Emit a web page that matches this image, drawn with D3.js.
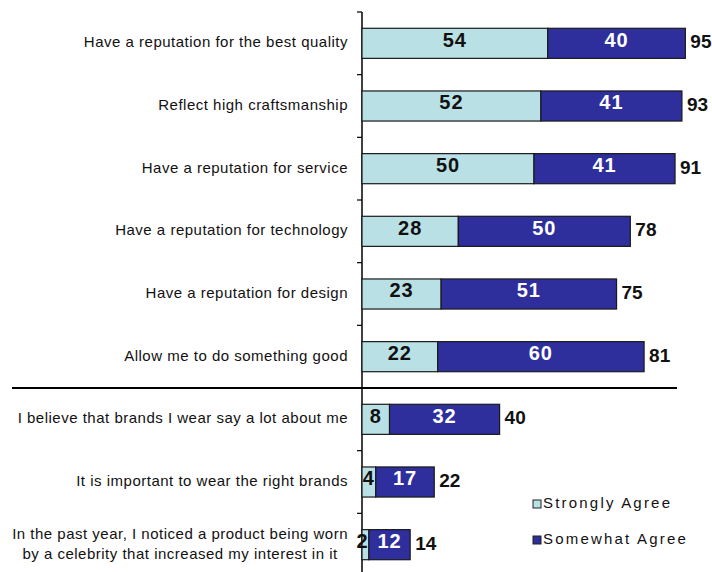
<!DOCTYPE html>
<html>
<head>
<meta charset="utf-8">
<script src="https://cdn.jsdelivr.net/npm/d3@7"></script>
<style>
  html, body { margin: 0; padding: 0; background: #ffffff; }
  svg { display: block; }
</style>
</head>
<body>
<svg id="chart" width="712" height="572"></svg>
<script>
const categories = [
  "Have a reputation for the best quality",
  "Reflect high craftsmanship",
  "Have a reputation for service",
  "Have a reputation for technology",
  "Have a reputation for design",
  "Allow me to do something good",
  "I believe that brands I wear say a lot about me",
  "It is important to wear the right brands",
  "In the past year, I noticed a product being worn|by a celebrity that increased my interest in it"
];
const stronglyAgree = [54, 52, 50, 28, 23, 22, 8, 4, 2];
const somewhatAgree = [40, 41, 41, 50, 51, 60, 32, 17, 12];
const totals = [95, 93, 91, 78, 75, 81, 40, 22, 14];
const seriesNames = ["Strongly Agree", "Somewhat Agree"];
const separatorAfter = 5; // index of last row above the divider

const colors = { light: "#b9e0e4", dark: "#2e2e9c" };
const font = "'Liberation Sans', Arial, sans-serif";

const svg = d3.select("#chart");

const x = d3.scaleLinear().domain([0, 100]).range([362, 706]);
const y = d3.scaleBand().domain(categories).range([12, 576])
  .paddingInner(0.52).paddingOuter(0.26);

const rows = categories.map((c, i) => ({
  cat: c, s: stronglyAgree[i], w: somewhatAgree[i], t: totals[i], i
}));

// axis line and boundary ticks
const step = y.step();
const boundaries = d3.range(categories.length + 1).map(k => y.range()[0] + k * step);
svg.append("line")
  .attr("x1", x(0)).attr("x2", x(0))
  .attr("y1", boundaries[0]).attr("y2", 576)
  .attr("stroke", "#000").attr("stroke-width", 1.5);
svg.selectAll("line.tick").data(boundaries).enter().append("line")
  .attr("class", "tick")
  .attr("x1", x(0) - 5).attr("x2", x(0))
  .attr("y1", d => d).attr("y2", d => d)
  .attr("stroke", "#000").attr("stroke-width", 1.2);

// separator
const sepY = y(categories[separatorAfter + 1]) - y.paddingInner() * step / 2;
svg.append("line")
  .attr("x1", 12).attr("x2", 677)
  .attr("y1", sepY).attr("y2", sepY)
  .attr("stroke", "#000").attr("stroke-width", 2);

// bars
const g = svg.append("g");
g.selectAll("rect.s").data(rows).enter().append("rect")
  .attr("x", x(0)).attr("y", d => y(d.cat))
  .attr("width", d => x(d.s) - x(0)).attr("height", y.bandwidth())
  .attr("fill", colors.light).attr("stroke", "#1a1a1a").attr("stroke-width", 1.2);
g.selectAll("rect.w").data(rows).enter().append("rect")
  .attr("x", d => x(d.s)).attr("y", d => y(d.cat))
  .attr("width", d => x(d.s + d.w) - x(d.s)).attr("height", y.bandwidth())
  .attr("fill", colors.dark).attr("stroke", "#1a1a1a").attr("stroke-width", 1.2);

// value labels
g.selectAll("text.sv").data(rows).enter().append("text")
  .attr("x", d => d.s < 3 ? (x(0) + x(d.s)) / 2 - 3 : (x(0) + x(d.s)) / 2)
  .attr("y", d => y(d.cat) + y.bandwidth() / 2 - 2)
  .attr("dominant-baseline", "middle").attr("text-anchor", "middle")
  .style("font-family", font).style("font-weight", "bold").style("font-size", "20px")
  .style("letter-spacing", "1px")
  .attr("fill", "#111").text(d => d.s);
g.selectAll("text.wv").data(rows).enter().append("text")
  .attr("x", d => (x(d.s) + x(d.s + d.w)) / 2)
  .attr("y", d => y(d.cat) + y.bandwidth() / 2 - 2)
  .attr("dominant-baseline", "middle").attr("text-anchor", "middle")
  .style("font-family", font).style("font-weight", "bold").style("font-size", "20px")
  .style("letter-spacing", "1px")
  .attr("fill", "#fff").text(d => d.w);
g.selectAll("text.tv").data(rows).enter().append("text")
  .attr("x", d => x(d.s + d.w) + 5)
  .attr("y", d => y(d.cat) + y.bandwidth() / 2)
  .attr("dominant-baseline", "middle").attr("text-anchor", "start")
  .style("font-family", font).style("font-weight", "bold").style("font-size", "19px")
  .attr("fill", "#111").text(d => d.t);

// category labels
rows.forEach(d => {
  const lines = d.cat.split("|");
  const cy = y(d.cat) + y.bandwidth() / 2;
  const lh = 20;
  if (lines.length === 1) {
    svg.append("text")
      .attr("x", 348).attr("y", cy)
      .attr("dominant-baseline", "middle").attr("text-anchor", "end")
      .style("font-family", font).style("font-size", "15px").style("letter-spacing", "0.5px")
      .attr("fill", "#111").text(lines[0]);
  } else {
    const t1 = svg.append("text")
      .attr("x", 348).attr("y", cy - lh / 2)
      .attr("dominant-baseline", "middle").attr("text-anchor", "end")
      .style("font-family", font).style("font-size", "15px").style("letter-spacing", "0.5px")
      .attr("fill", "#111").text(lines[0]);
    const w1 = t1.node().getComputedTextLength();
    svg.append("text")
      .attr("x", 348 - w1 / 2).attr("y", cy + lh / 2)
      .attr("dominant-baseline", "middle").attr("text-anchor", "middle")
      .style("font-family", font).style("font-size", "15px").style("letter-spacing", "0.5px")
      .attr("fill", "#111").text(lines[1]);
  }
});

// legend
const legend = svg.append("g").attr("transform", "translate(533,500)");
seriesNames.forEach((name, i) => {
  const gy = i * 36;
  legend.append("rect").attr("x", 0).attr("y", gy).attr("width", 8).attr("height", 8)
    .attr("fill", i === 0 ? colors.light : colors.dark)
    .attr("stroke", "#222").attr("stroke-width", 1);
  legend.append("text").attr("x", 10).attr("y", gy + 4)
    .attr("dominant-baseline", "middle")
    .style("font-family", font).style("font-size", "15px").style("letter-spacing", "2.2px")
    .attr("fill", "#111").text(name);
});
</script>
</body>
</html>
